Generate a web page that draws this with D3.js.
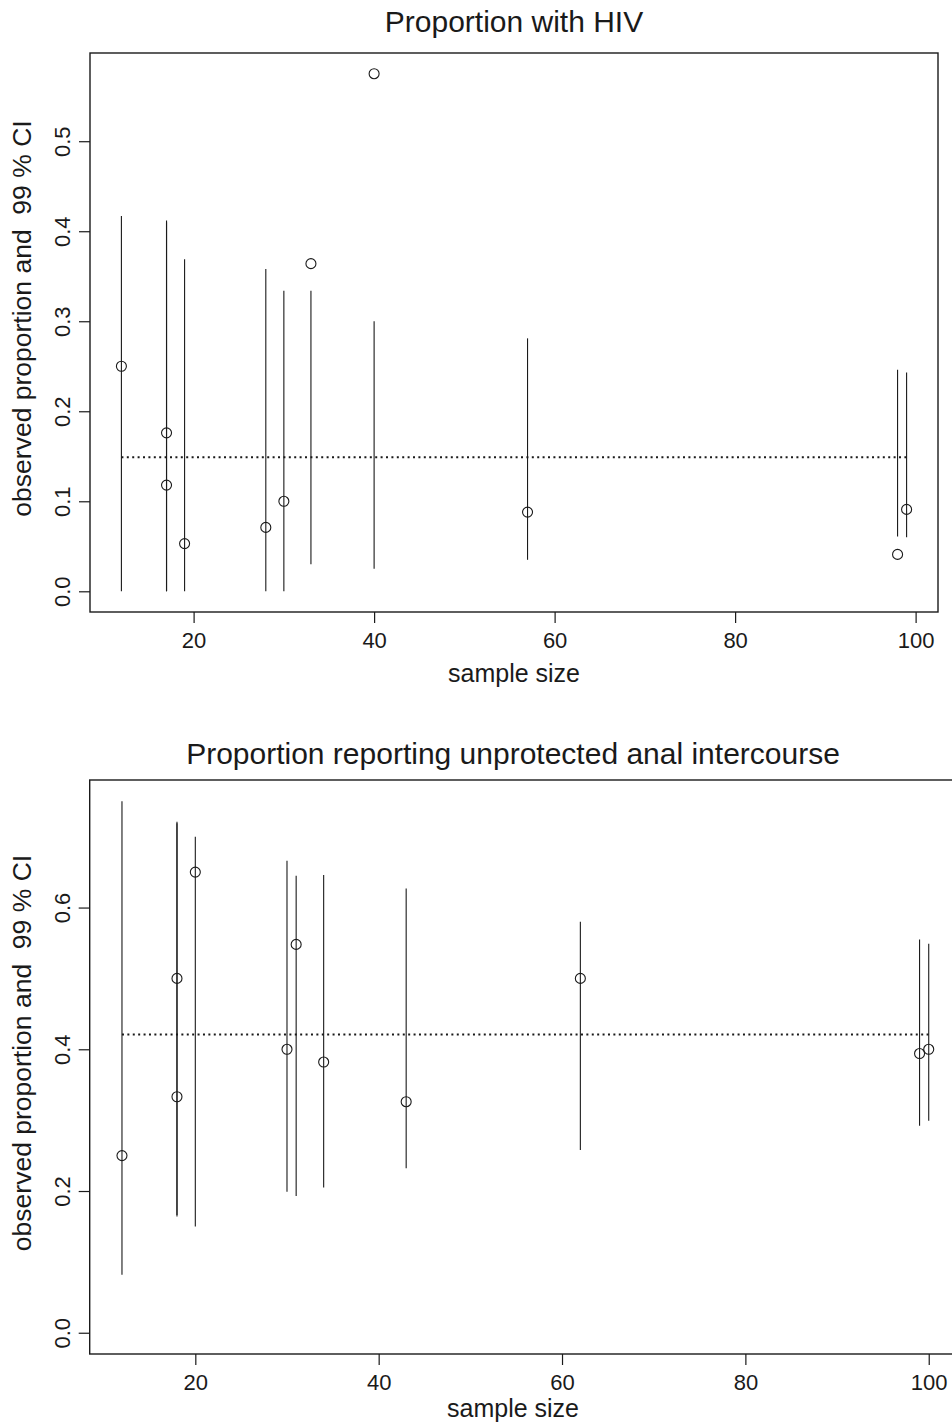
<!DOCTYPE html>
<html>
<head>
<meta charset="utf-8">
<script src="https://cdn.jsdelivr.net/npm/d3@7"></script>
<style>
body { margin: 0; background: #fff; }
svg { display: block; font-family: "Liberation Sans", Arial, Helvetica, sans-serif; }
</style>
</head>
<body>
<svg id="chart" width="952" height="1427"></svg>
<script>
// panel 1: proportion with HIV
const hivN  = [12, 17, 17, 19, 28, 30, 33, 40, 57, 98, 99];
const hivP  = [0.25, 0.176, 0.118, 0.053, 0.071, 0.1, 0.364, 0.575, 0.088, 0.041, 0.091];
const hivLo = [0, 0, 0, 0, 0, 0, 0.03, 0.025, 0.035, 0.061, 0.060];
const hivHi = [0.417, 0.412, 0.410, 0.369, 0.358, 0.334, 0.334, 0.300, 0.281, 0.246, 0.243];
const hivMean = 0.149;

// panel 2: proportion reporting UAI
const uaiN  = [12, 18, 18, 20, 30, 31, 34, 43, 62, 99, 100];
const uaiP  = [0.25, 0.5, 0.333, 0.65, 0.4, 0.548, 0.382, 0.326, 0.5, 0.394, 0.4];
const uaiLo = [0.082, 0.166, 0.164, 0.150, 0.199, 0.193, 0.205, 0.232, 0.258, 0.292, 0.299];
const uaiHi = [0.75, 0.721, 0.719, 0.700, 0.666, 0.645, 0.646, 0.627, 0.580, 0.555, 0.549];
const uaiMean = 0.421;

const xTicks = [20, 40, 60, 80, 100];
const hivYTicks = [0, 0.1, 0.2, 0.3, 0.4, 0.5];
const uaiYTicks = [0, 0.2, 0.4, 0.6];

const ink = "#1a1a1a";
const svg = d3.select("#chart");

// like R's default xaxs/yaxs = "r": stretch the range 4% each way
function padRange(lo, hi) {
    const d = (hi - lo) * 0.04;
    return [lo - d, hi + d];
}

function panel(o) {
    const x = d3.scaleLinear()
        .domain(padRange(d3.min(o.n), d3.max(o.n)))
        .range([o.left, o.right]);
    const y = d3.scaleLinear()
        .domain(padRange(0, d3.max(o.hi.concat(o.p))))
        .range([o.bottom, o.top]);

    const g = svg.append("g");

    // CI segments
    g.selectAll(null)
        .data(o.n)
        .join("line")
        .attr("x1", d => x(d))
        .attr("x2", d => x(d))
        .attr("y1", (d, i) => y(o.lo[i]))
        .attr("y2", (d, i) => y(o.hi[i]))
        .attr("stroke", ink)
        .attr("stroke-width", 1.1);

    // pooled proportion
    g.append("line")
        .attr("x1", x(d3.min(o.n)))
        .attr("x2", x(d3.max(o.n)))
        .attr("y1", y(o.mean))
        .attr("y2", y(o.mean))
        .attr("stroke", ink)
        .attr("stroke-width", 2)
        .attr("stroke-dasharray", "2,3.4");

    g.selectAll(null)
        .data(o.n)
        .join("circle")
        .attr("cx", d => x(d))
        .attr("cy", (d, i) => y(o.p[i]))
        .attr("r", 5)
        .attr("fill", "none")
        .attr("stroke", ink)
        .attr("stroke-width", 1.1);

    g.append("rect")
        .attr("x", o.left)
        .attr("y", o.top)
        .attr("width", o.right - o.left)
        .attr("height", o.bottom - o.top)
        .attr("fill", "none")
        .attr("stroke", ink)
        .attr("stroke-width", 1.4);

    const gx = g.append("g")
        .attr("transform", `translate(0,${o.bottom})`)
        .call(d3.axisBottom(x).tickValues(xTicks).tickSize(11).tickSizeOuter(0));
    gx.select(".domain").remove();
    gx.attr("font-size", 22).attr("font-family", null).attr("color", ink);
    gx.selectAll(".tick line").attr("stroke-width", 1.2);
    gx.selectAll(".tick text").attr("y", 36).attr("dy", null);

    const gy = g.append("g")
        .attr("transform", `translate(${o.left},0)`)
        .call(d3.axisLeft(y).tickValues(o.yTicks).tickFormat(d3.format(".1f")).tickSize(11).tickSizeOuter(0));
    gy.select(".domain").remove();
    gy.attr("font-size", 22).attr("font-family", null).attr("color", ink);
    gy.selectAll(".tick line").attr("stroke-width", 1.2);
    gy.selectAll(".tick text")
        .attr("transform", "rotate(-90)")
        .attr("x", 0)
        .attr("y", -20)
        .attr("dy", null)
        .attr("text-anchor", "middle");

    g.append("text")
        .attr("x", o.titleX)
        .attr("y", o.titleY)
        .attr("text-anchor", "middle")
        .attr("font-size", 30)
        .attr("fill", ink)
        .text(o.title);

    g.append("text")
        .attr("x", o.titleX)
        .attr("y", o.labelY)
        .attr("text-anchor", "middle")
        .attr("font-size", 25)
        .attr("fill", ink)
        .text("sample size");

    g.append("text")
        .attr("transform", `translate(31,${(o.top + o.bottom) / 2 - 14}) rotate(-90)`)
        .attr("text-anchor", "middle")
        .attr("font-size", 26.5)
        .attr("fill", ink)
        .attr("xml:space", "preserve")
        .style("white-space", "pre")
        .text("observed proportion and  99 % CI");
}

panel({
    n: hivN, p: hivP, lo: hivLo, hi: hivHi, mean: hivMean, yTicks: hivYTicks,
    left: 90, right: 938, top: 53, bottom: 612,
    title: "Proportion with HIV", titleX: 514, titleY: 32, labelY: 682
});

panel({
    n: uaiN, p: uaiP, lo: uaiLo, hi: uaiHi, mean: uaiMean, yTicks: uaiYTicks,
    left: 89.7, right: 961, top: 780, bottom: 1354,
    title: "Proportion reporting unprotected anal intercourse", titleX: 513, titleY: 764, labelY: 1417
});
</script>
</body>
</html>
